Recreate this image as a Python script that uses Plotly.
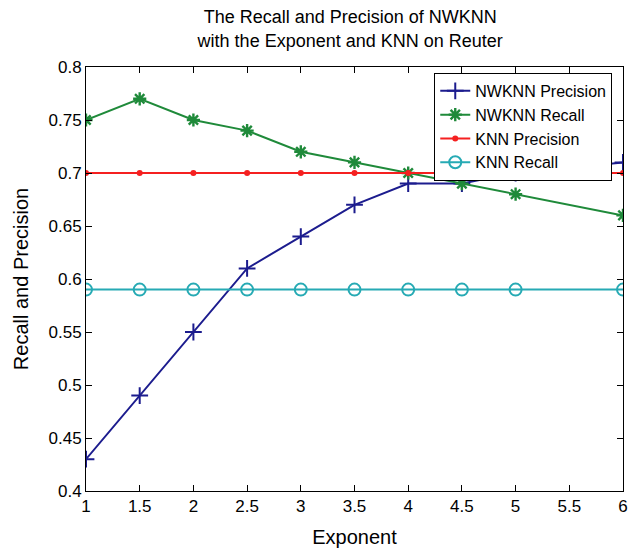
import plotly.graph_objects as go

exponent = [1, 1.5, 2, 2.5, 3, 3.5, 4, 4.5, 5, 6]
nwknn_precision = [0.43, 0.49, 0.55, 0.61, 0.64, 0.67, 0.69, 0.69, 0.70, 0.71]
nwknn_recall = [0.75, 0.77, 0.75, 0.74, 0.72, 0.71, 0.70, 0.69, 0.68, 0.66]
knn_precision = [0.70] * 10
knn_recall = [0.59] * 10

x_ticks = [1, 1.5, 2, 2.5, 3, 3.5, 4, 4.5, 5, 5.5, 6]
y_ticks = [0.4, 0.45, 0.5, 0.55, 0.6, 0.65, 0.7, 0.75, 0.8]

FONT = "Liberation Sans, Arial, sans-serif"

fig = go.Figure()
fig.add_trace(go.Scatter(x=exponent, y=nwknn_precision, name="NWKNN Precision",
                         mode="lines+markers",
                         line=dict(color="#1c1c8e", width=2),
                         marker=dict(symbol="cross-thin", size=12,
                                     line=dict(color="#1c1c8e", width=2))))
fig.add_trace(go.Scatter(x=exponent, y=nwknn_recall, name="NWKNN Recall",
                         mode="lines+markers",
                         line=dict(color="#1f8a3a", width=2),
                         marker=dict(symbol="asterisk-open", size=11,
                                     line=dict(color="#1f8a3a", width=2.4))))
fig.add_trace(go.Scatter(x=exponent, y=knn_precision, name="KNN Precision",
                         mode="lines+markers",
                         line=dict(color="#f52020", width=2),
                         marker=dict(symbol="circle", size=6, color="#f52020")))
fig.add_trace(go.Scatter(x=exponent, y=knn_recall, name="KNN Recall",
                         mode="lines+markers",
                         line=dict(color="#26aab4", width=2),
                         marker=dict(symbol="circle-open", size=12,
                                     line=dict(color="#26aab4", width=2))))

fig.update_layout(
    width=631, height=552,
    margin=dict(l=86, r=3, t=67, b=61),
    paper_bgcolor="white", plot_bgcolor="white",
    font=dict(family=FONT, size=17, color="black"),
    title=dict(text="The Recall and Precision of NWKNN<br>with the Exponent and KNN on Reuter",
               x=0.555, xanchor="center", xref="container", y=0.958, yanchor="top",
               font=dict(size=18)),
    showlegend=True,
    legend=dict(x=0.98, y=0.986, xanchor="right", yanchor="top",
                bordercolor="black", borderwidth=1, bgcolor="white",
                font=dict(size=16), tracegroupgap=0, itemwidth=30),
    xaxis=dict(range=[1, 6], tickvals=x_ticks, ticktext=[str(v) for v in x_ticks],
               ticks="inside", ticklen=6, tickcolor="black", mirror="ticks",
               showline=True, linecolor="black", linewidth=1, showgrid=False,
               zeroline=False, ticklabeloverflow="allow",
               title=dict(text="Exponent", font=dict(size=20), standoff=14),
               tickfont=dict(size=17)),
    yaxis=dict(range=[0.4, 0.8], tickvals=y_ticks, ticktext=[str(v) for v in y_ticks],
               ticks="inside", ticklen=6, tickcolor="black", mirror="ticks",
               showline=True, linecolor="black", linewidth=1, showgrid=False,
               zeroline=False, ticklabeloverflow="allow",
               title=dict(text="Recall and Precision", font=dict(size=20), standoff=14),
               tickfont=dict(size=17)),
)

fig.write_html("out.html", config={"displayModeBar": False},
               post_script="document.body.style.margin='0px';")
